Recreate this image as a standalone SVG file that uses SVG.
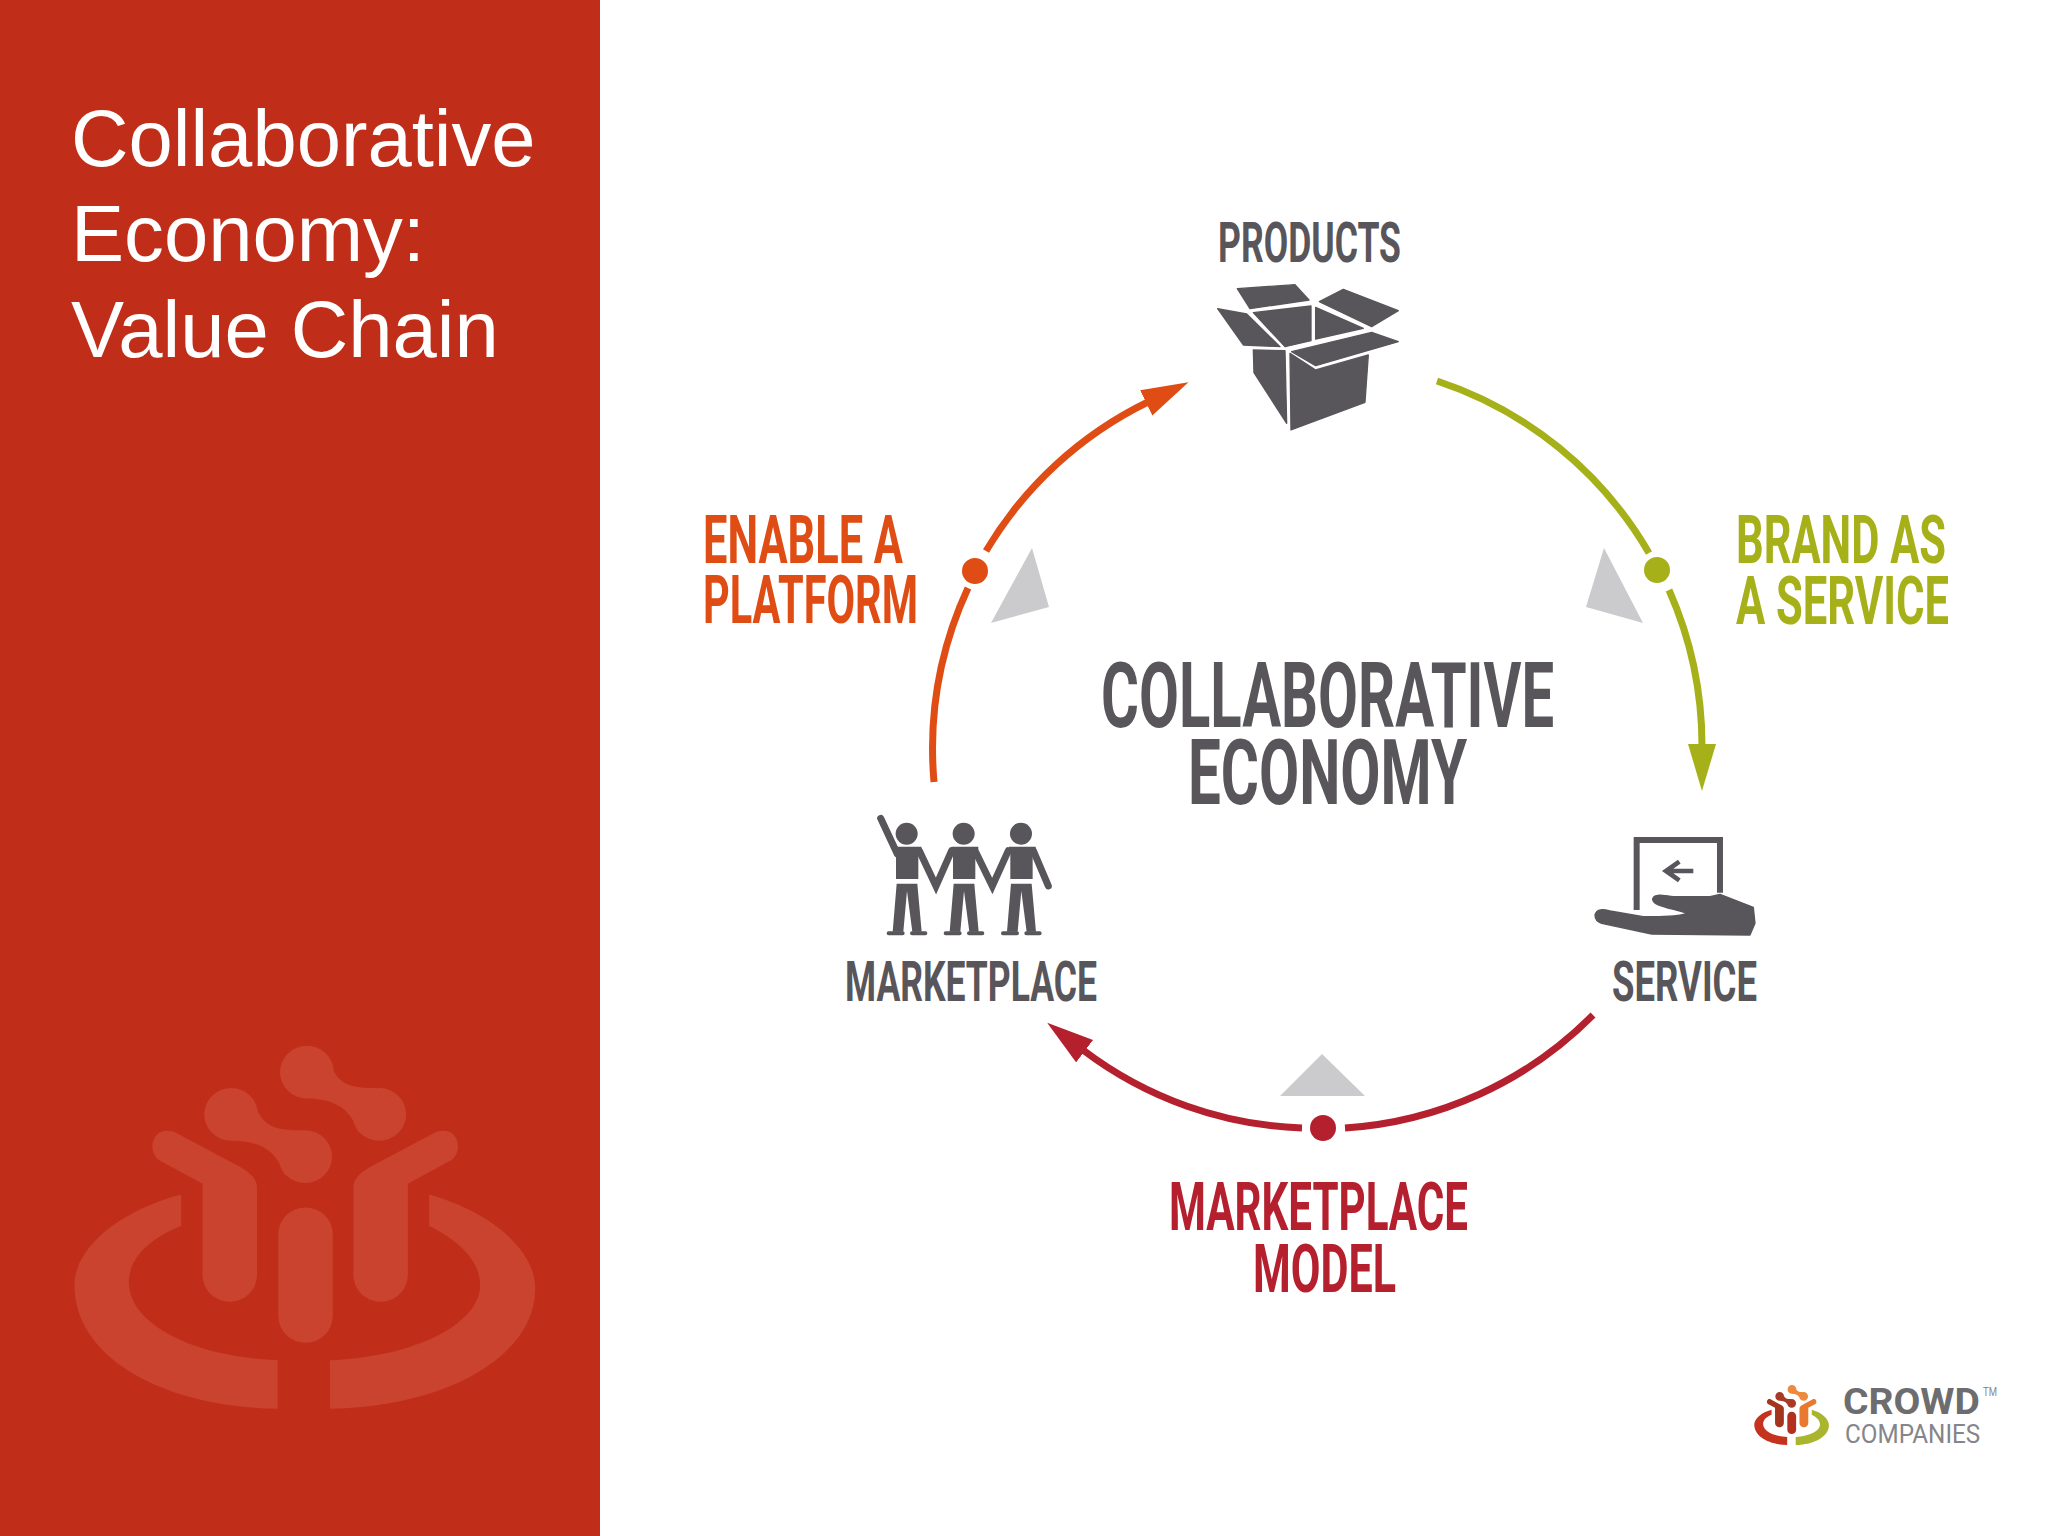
<svg xmlns="http://www.w3.org/2000/svg" xmlns:xlink="http://www.w3.org/1999/xlink" width="2048" height="1536" viewBox="0 0 2048 1536">
<style>
.t{font-family:"Roboto","Liberation Sans",sans-serif;font-weight:700}
.title{font-family:"Liberation Sans",Arial,sans-serif;font-size:79.6px;fill:#fff}
.g{fill:#58565a}.o{fill:#e04d14}.l{fill:#a6b018}.r{fill:#b5202f}
.arc{fill:none;stroke-width:7}
.tri{fill:#cbcbce}
.wm{fill:#c9432e}
.lim{stroke:#58565a;stroke-linecap:round;fill:none}
.thick{stroke:#58565a;stroke-width:4;stroke-linejoin:round}
</style>
<defs>
<marker id="aO" markerUnits="userSpaceOnUse" markerWidth="50" markerHeight="30" refX="2" refY="14" orient="auto"><path d="M0,0 L47,14 L0,28Z" fill="#e04d14"/></marker>
<marker id="aL" markerUnits="userSpaceOnUse" markerWidth="50" markerHeight="30" refX="2" refY="14" orient="auto"><path d="M0,0 L47,14 L0,28Z" fill="#a6b018"/></marker>
<marker id="aR" markerUnits="userSpaceOnUse" markerWidth="50" markerHeight="30" refX="2" refY="14" orient="auto"><path d="M0,0 L47,14 L0,28Z" fill="#b5202f"/></marker>
<path id="ringL" d="M410,522V615C320,650 258,710 258,780C258,900 430,1000 690,1012V1155C350,1150 100,1000 100,790C100,680 230,570 410,522Z"/>
<path id="ringR" d="M1130,522V615C1220,660 1278,720 1278,790C1278,900 1100,1000 842,1012V1155C1180,1150 1438,1000 1438,800C1438,680 1300,570 1130,522Z"/>
<path id="armL" d="M345,340C360,330 385,332 400,342L580,440C615,460 630,480 630,500V760A79,79 0 0 1 472,760V490L345,420C320,400 320,360 345,340Z"/>
<path id="armR" d="M1195,340C1180,330 1155,332 1140,342L960,440C925,460 910,480 910,500V760A79,79 0 0 0 1068,760V490L1195,420C1220,400 1220,360 1195,340Z"/>
<rect id="stem" x="692" y="560" width="158" height="400" rx="79"/>
<path id="dotA" d="M477,285a78,78 0 1 1 156,0a78,78 0 1 1 -156,0ZM692,410a78,78 0 1 1 156,0a78,78 0 1 1 -156,0ZM620,240C640,320 680,332 760,332L710,465C690,400 650,365 560,362Z"/>
<path id="dotB" d="M697,160a78,78 0 1 1 156,0a78,78 0 1 1 -156,0ZM907,285a78,78 0 1 1 156,0a78,78 0 1 1 -156,0ZM838,115C858,195 895,207 975,207L925,340C905,275 865,240 775,237Z"/>
<g id="person">
<path d="M-36,39H44V46L35,62V136H-32V62L-36,46Z" class="g"/>
<path d="M-30,150H32L45,294H17L1,172L-10,294H-42Z" class="g"/>
<path d="M-54,299H-12M16,299H56" class="lim" stroke-width="12"/>
</g>
</defs>

<rect id="panel" width="600" height="1536" fill="#c02e19"/>
<g id="watermark" class="wm" transform="translate(40 1018) scale(.3444 .3383)">
<use xlink:href="#ringL"/><use xlink:href="#ringR"/><use xlink:href="#armL"/><use xlink:href="#armR"/><use xlink:href="#stem"/><use xlink:href="#dotA"/><use xlink:href="#dotB"/>
</g>
<g id="title" class="title">
<text x="71" y="166">Collaborative</text>
<text x="71" y="261">Economy:</text>
<text x="71" y="357">Value Chain</text>
</g>

<g id="connectors">
<path class="arc" stroke="#a6b018" d="M1437,381A384,384 0 0 1 1649,553"/>
<path class="arc" stroke="#a6b018" marker-end="url(#aL)" d="M1669,590A384,384 0 0 1 1702,746"/>
<path class="arc" stroke="#b5202f" d="M1593,1015A384,384 0 0 1 1345,1128"/>
<path class="arc" stroke="#b5202f" marker-end="url(#aR)" d="M1302,1128A384,384 0 0 1 1083,1050"/>
<path class="arc" stroke="#e04d14" d="M934,782A384,384 0 0 1 968,588"/>
<path class="arc" stroke="#e04d14" marker-end="url(#aO)" d="M986,551A384,384 0 0 1 1148,402"/>
<circle class="l" cx="1657" cy="570" r="13"/>
<circle class="r" cx="1323" cy="1128" r="13"/>
<circle class="o" cx="975" cy="571" r="13"/>
<polygon class="tri" points="1032,548 1049,607 991,623"/>
<polygon class="tri" points="1604,548 1643,623 1586,607"/>
<polygon class="tri" points="1322,1054 1365,1096 1280,1096"/>
</g>

<g id="center">
<text class="t g" transform="translate(1101 727) scale(.6 1)" font-size="90" textLength="755" lengthAdjust="spacingAndGlyphs">COLLABORATIVE</text>
<text class="t g" transform="translate(1188 804) scale(.6 1)" font-size="90" textLength="465" lengthAdjust="spacingAndGlyphs">ECONOMY</text>
</g>

<g id="products">
<text class="t g" transform="translate(1218 262) scale(.6 1)" font-size="55" textLength="305" lengthAdjust="spacingAndGlyphs">PRODUCTS</text>
<g class="g thick" transform="translate(1150 190) scale(.3333)">
<polygon points="262,296 435,284 477,330 300,356"/>
<polygon points="508,335 580,298 745,362 665,410"/>
<polygon points="203,356 290,372 390,470 280,465"/>
<polygon points="310,368 483,348 483,452 405,470"/>
<polygon points="497,352 640,415 497,447"/>
<polygon points="425,485 665,427 745,455 497,527"/>
<polygon points="310,480 405,482 410,700 312,548"/>
<polygon points="420,490 497,540 655,495 645,637 423,720"/>
</g>
</g>

<g id="service">
<text class="t g" transform="translate(1612 1001) scale(.6 1)" font-size="55" textLength="241.7" lengthAdjust="spacingAndGlyphs">SERVICE</text>
<g transform="translate(1560 800) scale(.3333)">
<path d="M230,330V120H480V278" fill="none" stroke="#58565a" stroke-width="18"/>
<path d="M400,213H325M358,185L318,213L358,241" fill="none" stroke="#58565a" stroke-width="14"/>
<path class="g thick" d="M105,345C110,325 130,328 150,333L250,350C300,350 350,352 380,340C340,325 280,320 278,298C280,280 310,285 340,290L450,290L480,283L580,322L585,370L570,405L275,402L125,370C110,365 105,355 105,345Z"/>
</g>
</g>

<g id="marketplace">
<text class="t g" transform="translate(845 1001) scale(.6 1)" font-size="55" textLength="420" lengthAdjust="spacingAndGlyphs">MARKETPLACE</text>
<g transform="translate(840 780) scale(.3333)">
<circle class="g" cx="200" cy="161" r="33"/><circle class="g" cx="371" cy="161" r="33"/><circle class="g" cx="543" cy="161" r="33"/>
<use xlink:href="#person" x="200" y="161"/><use xlink:href="#person" x="371" y="161"/><use xlink:href="#person" x="543" y="161"/>
<path class="lim" stroke-width="21" d="M122,115L172,222M238,212L288,318L335,212M405,212L457,318L505,212M580,212L625,318"/>
</g>
</g>

<g id="label-enable" class="o">
<text class="t" transform="translate(703 563) scale(.6 1)" font-size="67" textLength="333.3" lengthAdjust="spacingAndGlyphs">ENABLE A</text>
<text class="t" transform="translate(703 623) scale(.6 1)" font-size="67" textLength="358.3" lengthAdjust="spacingAndGlyphs">PLATFORM</text>
</g>
<g id="label-brand" class="l">
<text class="t" transform="translate(1736 563) scale(.6 1)" font-size="67" textLength="350" lengthAdjust="spacingAndGlyphs">BRAND AS</text>
<text class="t" transform="translate(1736 624) scale(.6 1)" font-size="67" textLength="355" lengthAdjust="spacingAndGlyphs">A SERVICE</text>
</g>
<g id="label-model" class="r">
<text class="t" transform="translate(1169 1230) scale(.6 1)" font-size="67" textLength="498.3" lengthAdjust="spacingAndGlyphs">MARKETPLACE</text>
<text class="t" transform="translate(1253 1292) scale(.6 1)" font-size="67" textLength="238.3" lengthAdjust="spacingAndGlyphs">MODEL</text>
</g>

<g id="logo">
<g transform="translate(1748.7 1380.5) scale(.0558)">
<use xlink:href="#ringL" fill="#c5331f"/><use xlink:href="#ringR" fill="#a8b52d"/><use xlink:href="#armL" fill="#a5341f"/><use xlink:href="#armR" fill="#e8792f"/><use xlink:href="#stem" fill="#b3301f"/><use xlink:href="#dotA" fill="#a83a28"/><use xlink:href="#dotB" fill="#ee8a3c"/>
</g>
<text class="t" transform="translate(1843 1414) scale(.8 1)" font-size="37" fill="#6d6d70" textLength="171" lengthAdjust="spacingAndGlyphs">CROWD</text>
<text x="1983" y="1396" font-family="Roboto,'Liberation Sans',sans-serif" font-size="12" fill="#8a8a8c" textLength="14" lengthAdjust="spacingAndGlyphs">TM</text>
<text transform="translate(1845 1443) scale(.8 1)" font-family="Roboto,'Liberation Sans',sans-serif" font-size="25" fill="#85858a" textLength="169" lengthAdjust="spacingAndGlyphs">COMPANIES</text>
</g>
</svg>
